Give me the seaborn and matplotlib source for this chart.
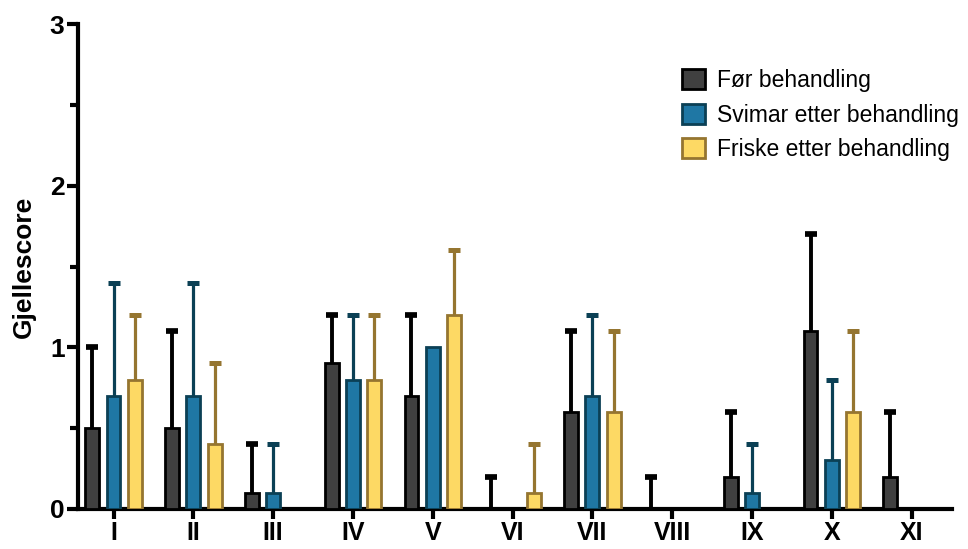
import numpy as np
import pandas as pd
import matplotlib
matplotlib.use("Agg")
import matplotlib.pyplot as plt
import seaborn as sns
from matplotlib.ticker import MultipleLocator

# Data
groups = ["I", "II", "III", "IV", "V", "VI", "VII", "VIII", "IX", "X", "XI"]
series = ["Før behandling", "Svimar etter behandling", "Friske etter behandling"]

for_mean = [0.5, 0.5, 0.1, 0.9, 0.7, 0.0, 0.6, 0.0, 0.2, 1.1, 0.2]
for_err = [0.5, 0.6, 0.3, 0.3, 0.5, 0.2, 0.5, 0.2, 0.4, 0.6, 0.4]

svim_mean = [0.7, 0.7, 0.1, 0.8, 1.0, 0.0, 0.7, 0.0, 0.1, 0.3, 0.0]
svim_err = [0.7, 0.7, 0.3, 0.4, 0.0, 0.0, 0.5, 0.0, 0.3, 0.5, 0.0]

frisk_mean = [0.8, 0.4, 0.0, 0.8, 1.2, 0.1, 0.6, 0.0, 0.0, 0.6, 0.0]
frisk_err = [0.4, 0.5, 0.0, 0.4, 0.4, 0.3, 0.5, 0.0, 0.0, 0.5, 0.0]

fill_colors = ["#404040", "#1f77a4", "#fdd964"]
edge_colors = ["#000000", "#0b4055", "#957530"]

df = pd.DataFrame({
    "gruppe": groups * 3,
    "serie": [series[0]] * 11 + [series[1]] * 11 + [series[2]] * 11,
    "score": for_mean + svim_mean + frisk_mean,
})
errs = [for_err, svim_err, frisk_err]

sns.set_style("ticks")
plt.rcParams["font.family"] = ["Liberation Sans", "DejaVu Sans"]
plt.rcParams["text.color"] = "black"

fig, ax = plt.subplots(figsize=(9.68, 5.49), dpi=100)
fig.subplots_adjust(left=0.081, right=0.983, bottom=0.073, top=0.956)

sns.barplot(data=df, x="gruppe", y="score", hue="serie", order=groups,
            hue_order=series, palette=fill_colors, saturation=1, width=0.8,
            gap=0.35, errorbar=None, ax=ax, zorder=3)

# colour edges and add one-sided (upper) error bars
for cont, ec, err in zip(ax.containers, edge_colors, errs):
    lw = 2.8 if ec == "#000000" else 2.3
    for bar, e in zip(cont, err):
        bar.set_edgecolor(ec)
        bar.set_linewidth(2.0)
        if bar.get_height() == 0:
            bar.set_visible(False)
        if e > 0:
            x = bar.get_x() + bar.get_width() / 2
            y = bar.get_height()
            ax.vlines(x, y, y + e, color=ec, lw=lw, zorder=2)
            ax.plot([x], [y + e], marker="_", markersize=8, mew=lw + 1.3,
                    color=ec, zorder=2, solid_capstyle="round")

ax.set_xlim(-0.44, 10.5)
ax.set_ylim(0, 3)
ax.yaxis.set_major_locator(MultipleLocator(1))
ax.yaxis.set_minor_locator(MultipleLocator(0.5))

sns.despine(ax=ax)
for sp in ["left", "bottom"]:
    ax.spines[sp].set_linewidth(3)
    ax.spines[sp].set_color("black")
ax.tick_params(axis="y", which="major", length=8, width=3, labelsize=19,
               pad=2, colors="black")
ax.tick_params(axis="y", which="minor", length=6, width=3, colors="black")
ax.tick_params(axis="x", length=7, width=3, labelsize=18, pad=2, colors="black")
for lab in ax.get_yticklabels() + ax.get_xticklabels():
    lab.set_fontweight("bold")

ax.set_xlabel("")
ax.set_ylabel("Gjellescore", fontsize=19, fontweight="bold", labelpad=10,
              color="black")

leg = fig.legend(*ax.get_legend_handles_labels(), loc="upper left",
                 bbox_to_anchor=(0.693, 0.895), frameon=False, borderpad=0,
                 fontsize=16.5, handlelength=0.98, handleheight=0.98,
                 handletextpad=0.55, labelspacing=0.5, labelcolor="black")
ax.get_legend().remove()
for h, ec in zip(leg.legend_handles, edge_colors):
    h.set_edgecolor(ec)
    h.set_linewidth(2.0)

fig.savefig("out.png", dpi=100)
